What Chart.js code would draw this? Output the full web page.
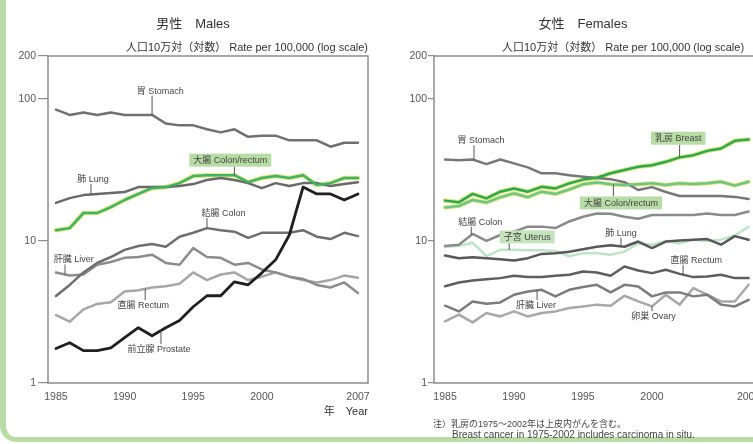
<!DOCTYPE html>
<html>
<head>
<meta charset="utf-8">
<script src="https://cdn.jsdelivr.net/npm/chart.js@4.4.1/dist/chart.umd.min.js"></script>
<style>
  html, body { margin: 0; padding: 0; background: #fff; overflow: hidden; width: 753px; height: 444px; }
  body { position: relative; font-family: "Liberation Sans", "Noto Sans CJK JP", sans-serif; color: #333; }
  #frame { position: absolute; left: 0; top: -30px; width: 820px; height: 472px; box-sizing: border-box;
           border-left: 6px solid #b9dca6; border-bottom: 5px solid #b9dca6; border-bottom-left-radius: 16px; }
  canvas { position: absolute; top: 0; }
  .txt { position: absolute; white-space: nowrap; line-height: 1; }
  .title { font-size: 13px; transform: translate(-50%, -50%); color: #333; }
  .sub { font-size: 11px; transform: translateY(-50%); color: #333; }
  .note { font-size: 9px; color: #444; transform: translateY(-50%); }
</style>
</head>
<body>
<div id="frame"></div>
<canvas id="maleChart" width="380" height="420" style="left:0"></canvas>
<canvas id="femaleChart" width="420" height="420" style="left:380px"></canvas>

<div class="txt title" style="left:193px; top:23px">男性　Males</div>
<div class="txt sub" style="right:385px; top:47px">人口10万対（対数） Rate per 100,000 (log scale)</div>
<div class="txt title" style="left:583px; top:23px">女性　Females</div>
<div class="txt sub" style="left:502px; top:47px">人口10万対（対数） Rate per 100,000 (log scale)</div>
<div class="txt sub" style="right:385px; top:411px">年　Year</div>
<div class="txt note" style="left:433px; top:424px">注）乳房の1975～2002年は上皮内がんを含む。</div>
<div class="txt note" style="left:452px; top:434.5px; font-size:10px">Breast cancer in 1975-2002 includes carcinoma in situ.</div>

<script>
// Years on the x axis
const years = [1985, 1986, 1987, 1988, 1989, 1990, 1991, 1992, 1993, 1994, 1995, 1996,
               1997, 1998, 1999, 2000, 2001, 2002, 2003, 2004, 2005, 2006, 2007];
const xTicks = [1985, 1990, 1995, 2000, 2007];
const yTicks = [1, 10, 100, 200];

// Males, rate per 100,000
const maleStomach = [84, 77, 80, 77, 80, 77, 77, 77, 67, 65, 65, 61, 58, 61, 54, 55, 55, 51, 51, 51, 46, 49, 49];
const maleLung = [18.5, 20, 21, 21.4, 21.7, 22.1, 23.9, 23.9, 23.9, 24.3, 25.1, 26.8, 27.7, 26.8, 25.5, 23.5, 25.5, 24.3, 25.5, 25.5, 24.3, 25.1, 25.9];
const maleColonRectum = [11.9, 12.3, 15.7, 15.7, 17.3, 19.4, 21.4, 23.5, 23.9, 25.5, 28.6, 29, 29, 29, 25.9, 27.7, 28.6, 27.7, 29, 24.7, 25.5, 27.7, 27.7];
const maleColon = [4.1, 4.9, 6.0, 7.0, 7.7, 8.65, 9.2, 9.5, 9.1, 10.7, 11.4, 12.3, 11.9, 11.6, 10.5, 11.4, 11.4, 11.4, 11.9, 10.7, 10.3, 11.4, 10.8];
const maleLiver = [6.0, 5.7, 5.8, 6.8, 7.1, 7.6, 7.7, 8.0, 7.0, 6.8, 8.9, 7.7, 7.6, 6.8, 7.0, 6.3, 6.0, 5.6, 5.4, 4.9, 4.7, 5.1, 4.3];
const maleRectum = [3.0, 2.7, 3.3, 3.6, 3.7, 4.4, 4.5, 4.7, 4.8, 5.0, 6.0, 5.3, 5.8, 6.0, 5.3, 5.6, 6.0, 5.6, 5.3, 5.1, 5.3, 5.7, 5.5];
const maleProstate = [1.75, 1.92, 1.69, 1.69, 1.77, 2.09, 2.45, 2.15, 2.45, 2.75, 3.44, 4.11, 4.11, 5.15, 4.91, 5.96, 7.36, 11.0, 23.9, 21.4, 21.4, 19.4, 21.4];

// Females, rate per 100,000
const femaleStomach = [37.4, 37.0, 37.4, 34.7, 37.4, 35.1, 32.9, 29.9, 29.9, 29.0, 28.3, 27.7, 27.2, 25.9, 22.8, 23.9, 22.1, 20.7, 20.7, 20.7, 20.7, 20.4, 19.7];
const femaleBreast = [19.2, 18.7, 21.4, 19.9, 22.2, 23.4, 22.2, 24.0, 23.4, 25.4, 27.0, 27.8, 29.9, 31.5, 33.2, 34.1, 36.0, 38.7, 40.1, 43.0, 44.7, 50.6, 51.7];
const femaleColonRectum = [17.2, 17.6, 19.4, 18.6, 20.3, 21.6, 20.3, 22.2, 21.4, 23.0, 25.0, 25.8, 25.0, 24.7, 25.0, 25.4, 24.7, 25.4, 25.1, 25.4, 26.1, 24.5, 26.1];
const femaleColon = [9.2, 9.4, 11.2, 10.0, 11.0, 11.6, 12.6, 12.6, 12.3, 13.7, 14.8, 15.6, 15.5, 14.8, 14.3, 15.2, 15.2, 15.2, 15.2, 15.6, 15.2, 15.2, 16.1];
const femaleUterus = [9.1, 9.2, 9.7, 7.8, 8.65, 8.65, 8.6, 8.6, 8.5, 7.8, 8.2, 8.2, 8.0, 8.4, 9.6, 9.4, 10.0, 9.6, 10.2, 10.0, 10.2, 10.9, 12.6];
const femaleLung = [7.9, 7.56, 7.68, 7.56, 7.44, 7.27, 7.56, 8.1, 8.2, 8.4, 8.74, 9.1, 9.3, 9.1, 9.9, 8.9, 9.9, 10.05, 10.2, 10.3, 9.4, 10.8, 10.2];
const femaleRectum = [4.8, 5.1, 5.26, 5.38, 5.47, 5.68, 5.56, 5.56, 5.68, 5.77, 6.09, 6.0, 5.68, 6.6, 6.19, 5.93, 6.26, 5.86, 5.56, 5.62, 5.77, 5.47, 5.47];
const femaleLiver = [3.5, 3.19, 3.75, 3.61, 3.69, 4.18, 4.41, 4.53, 4.07, 4.53, 4.73, 4.91, 4.34, 4.91, 4.78, 4.07, 4.34, 4.34, 4.07, 4.18, 3.56, 3.46, 3.85];
const femaleOvary = [2.71, 3.03, 2.67, 3.11, 2.94, 3.19, 2.94, 3.11, 3.19, 3.37, 3.46, 3.56, 3.5, 4.11, 3.75, 3.46, 4.18, 3.56, 4.66, 4.18, 3.75, 3.75, 4.91];

const FONT = '"Liberation Sans", "Noto Sans CJK JP", sans-serif';
const HALO = '#e4e47a';

function toPoints(values) {
  return years.map((yr, i) => ({ x: yr, y: values[i] }));
}

function line(values, color, width, order) {
  return { data: toPoints(values), borderColor: color, borderWidth: width, order: order };
}

// value of a series at a (possibly fractional) year, for leader lines
function valueAt(values, year) {
  const i = Math.max(0, Math.min(years.length - 2, Math.floor(year - years[0])));
  const t = year - years[i];
  return values[i] * Math.pow(values[i + 1] / values[i], t);
}

// box round the plot area
const framePlugin = {
  id: 'frame',
  beforeDatasetsDraw(chart) {
    const a = chart.chartArea, ctx = chart.ctx;
    ctx.save();
    ctx.strokeStyle = '#8c8c8c';
    ctx.lineWidth = 1.5;
    ctx.strokeRect(a.left, a.top, a.right - a.left, a.bottom - a.top);
    ctx.restore();
  }
};

// series names with a short leader line down/up to the curve
function makeLabelPlugin(items) {
  return {
    id: 'seriesLabels',
    afterDatasetsDraw(chart) {
      const ctx = chart.ctx, xs = chart.scales.x, ys = chart.scales.y;
      ctx.save();
      ctx.font = '9px ' + FONT;
      ctx.textAlign = 'center';
      ctx.textBaseline = 'middle';
      items.forEach(item => {
        const tx = xs.getPixelForValue(item.x);
        const ty = ys.getPixelForValue(item.y);
        const lx = xs.getPixelForValue(item.lx);
        const ly = ys.getPixelForValue(valueAt(item.series, item.lx));
        const w = ctx.measureText(item.text).width;
        const half = item.box ? 6.5 : 5;
        const edge = ty < ly ? ty + half : ty - half;
        ctx.strokeStyle = '#555';
        ctx.lineWidth = 1;
        ctx.beginPath();
        ctx.moveTo(lx, edge);
        ctx.lineTo(lx, ly);
        ctx.stroke();
        if (item.box) {
          ctx.fillStyle = item.box;
          ctx.fillRect(tx - w / 2 - 4, ty - half, w + 8, half * 2);
        }
        ctx.fillStyle = '#444';
        ctx.fillText(item.text, tx, ty + 0.5);
      });
      ctx.restore();
    }
  };
}

function buildChart(canvasId, datasets, axis, labels) {
  return new Chart(document.getElementById(canvasId), {
    type: 'line',
    data: { datasets: datasets },
    options: {
      responsive: false,
      animation: false,
      layout: { padding: { top: 56, right: axis.padRight, bottom: 0, left: 0 } },
      plugins: { legend: { display: false }, tooltip: { enabled: false } },
      elements: {
        point: { radius: 0 },
        line: { tension: 0, borderJoinStyle: 'round', borderCapStyle: 'round' }
      },
      scales: {
        x: {
          type: 'linear',
          min: axis.xMin,
          max: axis.xMax,
          afterBuildTicks: s => { s.ticks = xTicks.map(v => ({ value: v })); },
          afterFit: s => { s.height = 37; },
          grid: { display: false, tickLength: 0 },
          border: { display: false },
          ticks: { padding: 8, autoSkip: false, maxRotation: 0, color: '#555',
                   font: { family: FONT, size: 10.5 }, callback: v => String(v) }
        },
        y: {
          type: 'logarithmic',
          min: 1,
          max: 200,
          afterBuildTicks: s => { s.ticks = yTicks.map(v => ({ value: v })); },
          afterFit: s => { s.width = axis.yWidth; },
          grid: { drawOnChartArea: false, drawTicks: true, tickLength: axis.tickLen, color: '#8c8c8c', lineWidth: 1.2 },
          border: { display: false },
          ticks: { padding: axis.tickPad, color: '#555', font: { family: FONT, size: 10.5 },
                   callback: v => String(v) }
        }
      }
    },
    plugins: [framePlugin, makeLabelPlugin(labels)]
  });
}

// Males
buildChart('maleChart', [
  line(maleColonRectum, HALO, 4.5, 20),
  line(maleStomach, '#707070', 2.5, 10),
  line(maleLung, '#696969', 2.5, 10),
  line(maleColon, '#6e6e6e', 2.5, 10),
  line(maleLiver, '#8c8c8c', 2.5, 10),
  line(maleRectum, '#a6a6a6', 2.5, 10),
  line(maleColonRectum, '#3cb46a', 2.5, 5),
  line(maleProstate, '#1f1f1f', 2.8, 1)
], { xMin: 1984.42, xMax: 2007.73, yWidth: 48, padRight: 12, tickLen: 10, tickPad: 2 }, [
  { text: '胃 Stomach', x: 1992.6, y: 114, lx: 1992, series: maleStomach },
  { text: '肺 Lung', x: 1987.7, y: 27.2, lx: 1987.55, series: maleLung },
  { text: '大腸 Colon/rectum', x: 1997.7, y: 37, lx: 1998, series: maleColonRectum, box: '#b8dca6' },
  { text: '結腸 Colon', x: 1997.2, y: 15.7, lx: 1996, series: maleColon },
  { text: '肝臓 Liver', x: 1986.3, y: 7.4, lx: 1985.66, series: maleLiver },
  { text: '直腸 Rectum', x: 1991.35, y: 3.53, lx: 1991.5, series: maleRectum },
  { text: '前立腺 Prostate', x: 1992.5, y: 1.73, lx: 1992.65, series: maleProstate }
]);

// Females
buildChart('femaleChart', [
  line(femaleBreast, HALO, 4.5, 20),
  line(femaleColonRectum, HALO, 4.2, 20),
  line(femaleStomach, '#777777', 2.5, 10),
  line(femaleColon, '#8a8a8a', 2.5, 10),
  line(femaleUterus, '#bfe3c6', 2.5, 10),
  line(femaleLung, '#585858', 2.5, 9),
  line(femaleRectum, '#5e5e5e', 2.5, 10),
  line(femaleLiver, '#7c7c7c', 2.5, 10),
  line(femaleOvary, '#a8a8a8', 2.5, 10),
  line(femaleColonRectum, '#6cc68a', 2.5, 6),
  line(femaleBreast, '#27a957', 2.5, 5)
], { xMin: 1984.2, xMax: 2007.39, yWidth: 54, padRight: 46, tickLen: 6, tickPad: 1 }, [
  { text: '胃 Stomach', x: 1987.6, y: 51, lx: 1987.1, series: femaleStomach },
  { text: '乳房 Breast', x: 2001.9, y: 52.8, lx: 2002.0, series: femaleBreast, box: '#b8dca6' },
  { text: '大腸 Colon/rectum', x: 1997.75, y: 18.5, lx: 1997.2, series: femaleColonRectum, box: '#b8dca6' },
  { text: '結腸 Colon', x: 1987.55, y: 13.6, lx: 1986.9, series: femaleColon },
  { text: '子宮 Uterus', x: 1990.95, y: 10.67, lx: 1989.65, series: femaleUterus, box: '#c6e4bc' },
  { text: '肺 Lung', x: 1997.75, y: 11.4, lx: 1997.75, series: femaleLung },
  { text: '直腸 Rectum', x: 2003.2, y: 7.36, lx: 2002.25, series: femaleRectum },
  { text: '肝臓 Liver', x: 1991.6, y: 3.53, lx: 1991.67, series: femaleLiver },
  { text: '卵巣 Ovary', x: 2000.1, y: 2.95, lx: 2000.0, series: femaleOvary }
]);
</script>
</body>
</html>
